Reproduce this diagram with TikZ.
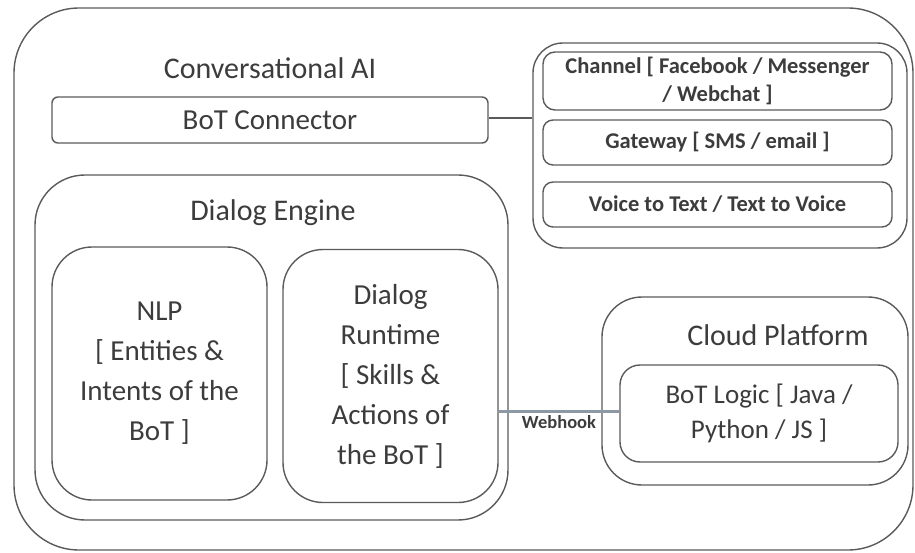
\documentclass[tikz,border=0pt]{standalone}
\usepackage{fontspec}
\setmainfont{Carlito}
\definecolor{edge}{HTML}{5A5A5A}
\definecolor{ink}{HTML}{3C3C3C}
\definecolor{hook}{HTML}{8C98A4}
\tikzset{
  panel/.style={draw=edge, line width=1.4pt, rectangle, inner sep=0pt,
    text=ink, align=center},
  title/.style={text=ink, font=\fontsize{30}{36}\selectfont, inner sep=0pt},
  bodytext/.style={font=\fontsize{29}{40}\selectfont},
  chantext/.style={font=\fontsize{22.5}{31}\selectfont\bfseries},
}
\begin{document}
\begin{tikzpicture}[x=1pt,y=-1pt]
\useasboundingbox (0,0) rectangle (915,553);

% outer frame
\node[panel, rounded corners=65pt, minimum width=899pt, minimum height=542pt]
  (outer) at (463.5,279) {};
\node[title] (convtitle) at (270,68) {Conversational AI};

% bot connector bar
\node[panel, rounded corners=6pt, minimum width=436pt, minimum height=46pt,
  bodytext] (connector) at (270,120) {BoT Connector};

% dialog engine
\node[panel, rounded corners=50pt, minimum width=473pt, minimum height=345pt]
  (engine) at (271.5,347.5) {};
\node[title] (enginetitle) at (273,213) {Dialog Engine};
\node[panel, rounded corners=40pt, minimum width=215pt, minimum height=253pt,
  bodytext] (nlp) at (159.5,373.5)
  {NLP\\{[} Entities \&\\Intents of the\\BoT ]};
\node[panel, rounded corners=40pt, minimum width=215pt, minimum height=253pt,
  bodytext] (runtime) at (390.5,376)
  {Dialog\\Runtime\\{[} Skills \&\\Actions of\\the BoT ]};

% channels group
\node[panel, rounded corners=30pt, minimum width=374pt, minimum height=205pt]
  (channels) at (720,145.5) {};
\node[panel, rounded corners=12pt, minimum width=349pt, minimum height=58pt,
  chantext] (channel) at (717.5,81)
  {\raisebox{-2pt}{Channel [ Facebook / Messenger}\\[-1pt]/ Webchat ]};
\node[panel, rounded corners=10pt, minimum width=349pt, minimum height=45pt,
  chantext] (gateway) at (717.5,142.5) {Gateway [ SMS / email ]};
\node[panel, rounded corners=10pt, minimum width=349pt, minimum height=45pt,
  chantext] (voice) at (717.5,204.5) {Voice to Text / Text to Voice};

% cloud platform
\node[panel, rounded corners=40pt, minimum width=306pt, minimum height=188pt]
  (cloud) at (755,391) {};
\node[title] (cloudtitle) at (778,335) {Cloud Platform};
\node[panel, rounded corners=20pt, minimum width=278pt, minimum height=97pt,
  bodytext, font=\fontsize{27}{35}\selectfont] (logic) at (759,413.5)
  {BoT Logic [ Java /\\Python / JS ]};

% connectors
\draw[edge, line width=1.4pt] (connector.east |- 0,118) -- (channels.west |- 0,118);
\draw[hook, line width=3pt] (runtime.east |- 0,411) --
  node[below=3pt, text=ink, font=\fontsize{18.5}{20}\selectfont\bfseries, inner sep=0pt]
  (hooklabel) {Webhook} (logic.west |- 0,411);
\end{tikzpicture}
\end{document}
